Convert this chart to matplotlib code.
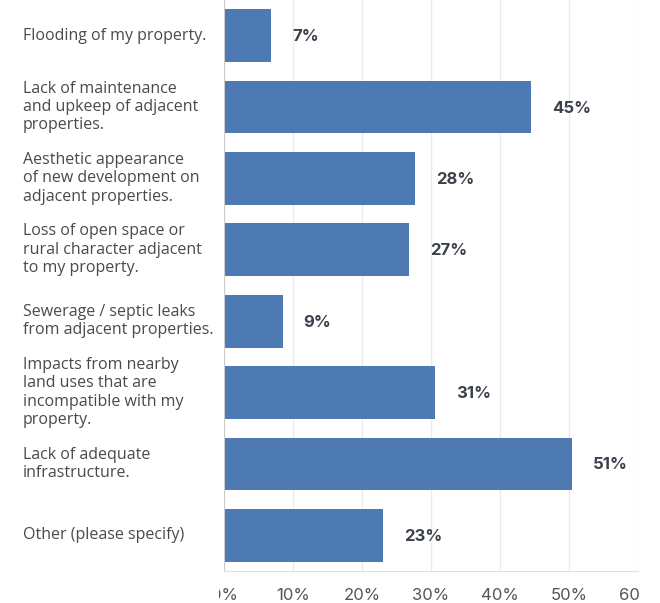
import numpy as np
import matplotlib.pyplot as plt
from matplotlib.patches import Rectangle

categories = [
    "Flooding of my property.",
    "Lack of maintenance\nand upkeep of adjacent\nproperties.",
    "Aesthetic appearance\nof new development on\nadjacent properties.",
    "Loss of open space or\nrural character adjacent\nto my property.",
    "Sewerage / septic leaks\nfrom adjacent properties.",
    "Impacts from nearby\nland uses that are\nincompatible with my\nproperty.",
    "Lack of adequate\ninfrastructure.",
    "Other (please specify)",
]
values = [6.8, 44.5, 27.7, 26.8, 8.5, 30.6, 50.4, 23.0]
value_labels = ["7%", "45%", "28%", "27%", "9%", "31%", "51%", "23%"]
xticks = [0, 10, 20, 30, 40, 50, 60]

W, H = 660, 603
fig = plt.figure(figsize=(W / 100, H / 100), dpi=100)
ax = fig.add_axes([224 / W, 1 - 571 / H, (638 - 224) / W, 571 / H])

y = np.arange(len(categories))
ax.barh(y, values, height=0.74, color="#4e7ab3", zorder=2)
ax.set_ylim(len(categories) - 0.5, -0.5)
ax.set_xlim(0, 60)

for yi, v, lab in zip(y, values, value_labels):
    ax.annotate(lab, (v, yi), xytext=(21, -1), textcoords="offset pixels",
                va="center", ha="left", fontsize=12, fontweight="bold",
                family="Inter", color="#3b414b")

for yi, cat in zip(y, categories):
    ax.annotate(cat, (0, yi), xycoords=("figure pixels", "data"),
                xytext=(23, 0), textcoords="offset pixels",
                va="center", ha="left", fontsize=11.5, family="Open Sans",
                color="#4a4a4a", linespacing=1.2)

ax.set_yticks([])
ax.set_xticks(xticks)
ax.set_xticklabels([f"{t}%" for t in xticks], family="Inter", fontsize=12,
                   color="#555555")
ax.tick_params(axis="x", length=0, pad=12)
ax.grid(axis="x", color="#ebebeb", linewidth=1, zorder=0)
for s in ["top", "right"]:
    ax.spines[s].set_visible(False)
ax.spines["left"].set_color("#cccccc")
ax.spines["bottom"].set_color("#e0e0e0")

# tick labels get cut at both ends like the original
clip = Rectangle((219, 0), 641 - 219, H, transform=None, visible=False)
fig.add_artist(clip)
for t in ax.get_xticklabels():
    t.set_clip_path(clip)

fig.savefig("out.png", dpi=100)
